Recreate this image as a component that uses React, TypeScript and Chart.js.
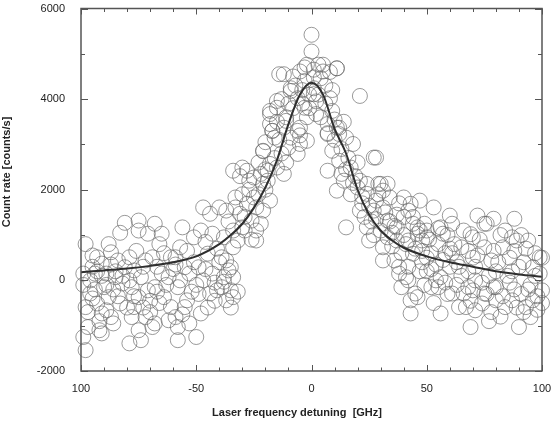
import React, { useEffect, useRef } from "react";
import { Chart, registerables } from "chart.js";

Chart.register(...registerables);

// Fit curve (detuning GHz, counts/s)
const fitX = [-100, -90, -80, -70, -60, -50, -40, -35, -30, -25, -20, -15, -10, -5, 0, 5, 10, 15, 20, 25, 30, 35, 40, 50, 60, 70, 80, 90, 100];
const fitY = [180, 220, 260, 320, 400, 530, 800, 1000, 1250, 1600, 2050, 2650, 3450, 4100, 4360, 4100, 3350, 2800, 2000, 1450, 1100, 880, 720, 530, 400, 300, 200, 130, 80];

// Measured points, left wing
const leftPoints: [number, number][] = [
  [-98,800],[-95,550],[-99,150],[-94,150],[-96,-290],[-98,-590],[-93,-510],[-91,-730],[-97,-1030],[-92,-1100],[-98,-1540],[-90,-150],[-91,370],[-93,510],[-95,-400],[-91,100],[-96,0],[-92,-900],[-93,200],[-99,-1250],[-97,-700],[-94,-200],[-99,-100],[-95,300],
  [-88,800],[-87,620],[-89,150],[-85,70],[-82,-70],[-88,-370],[-89,-660],[-87,-810],[-91,-1170],[-81,1270],[-83,1050],[-84,440],[-81,290],[-83,-510],[-86,-200],[-85,200],[-87,350],[-84,-350],[-80,-600],[-86,-950],[-82,100],[-89,-100],
  [-75,1320],[-75,1100],[-79,510],[-72,440],[-77,220],[-74,70],[-78,-150],[-75,-370],[-77,-590],[-78,-810],[-72,-810],[-79,-1390],[-74,-1320],[-71,1030],[-75,-1100],[-71,-220],[-73,300],[-76,650],[-70,-450],[-79,0],[-73,-600],[-77,-350],
  [-68,1250],[-65,1030],[-66,800],[-69,510],[-65,150],[-62,70],[-68,-150],[-64,-370],[-68,-950],[-69,-1030],[-61,-590],[-62,-880],[-61,510],[-67,300],[-63,-100],[-60,250],[-66,-500],[-70,-700],[-64,600],[-67,-250],
  [-58,-1320],[-58,-1030],[-59,510],[-57,730],[-55,290],[-58,-150],[-54,-440],[-51,950],[-53,150],[-55,-590],[-59,-810],[-56,1170],[-52,-250],[-57,0],[-51,400],[-54,650],[-50,-100],[-56,-750],[-53,-950],[-59,350],
  [-47,1610],[-44,1470],[-48,1100],[-43,1030],[-45,590],[-49,290],[-43,150],[-47,0],[-44,-290],[-41,-220],[-48,-730],[-42,-450],[-46,850],[-41,700],[-49,-300],[-45,-600],[-40,400],[-50,-1250],[-46,250],[-42,-50],
  [-39,510],[-37,440],[-34,730],[-38,950],[-37,1540],[-34,1100],[-32,880],[-40,1610],[-35,290],[-38,70],[-34,70],[-35,-220],[-37,-440],[-39,-150],[-34,-370],[-33,1830],[-30,1900],[-33,1610],[-31,1470],[-30,1170],[-34,2420],[-30,2490],[-36,220],[-32,-250],[-38,-30],[-31,2300],[-36,1300],[-35,-600],
  [-28,1690],[-26,1320],[-24,1100],[-24,1610],[-21,1540],[-25,1830],[-22,2350],[-21,2130],[-25,2270],[-18,2570],[-28,2420],[-29,1100],[-24,880],[-18,1760],[-27,2000],[-23,2600],[-20,2000],[-26,900],[-22,1250],[-29,1400],[-27,2200],[-21,2850],[-20,3050],[-23,1900],
];

// Measured points, peak region
const peakPoints: [number, number][] = [
  [-14,4550],[-18,3740],[-18,3450],[-15,3960],[-9,4180],[-12,3370],[-16,3150],[-10,2930],[-21,2860],[-19,2420],[-15,2490],[-12,2350],[-6,2790],[-5,3010],[-13,2800],[-16,2700],[-11,3600],[-17,3300],[-14,3100],[-19,2200],[-11,2600],[-15,3500],[-20,2450],[-13,4000],
  [-12,4550],[-15,3810],[-18,3670],[-9,4240],[-5,4610],[-2,4760],[-6,4020],[-11,3520],[-17,3300],[-5,3370],[-9,3150],[0,5420],[0,5050],[1,4240],[-8,3800],[-3,4400],[-1,4100],[-7,4300],[-4,3900],[-2,3600],[-8,4500],[-3,4700],[-1,3800],[-6,3300],[-10,3900],[-4,4200],[-5,3200],
  [4,4460],[5,4760],[11,4680],[8,4020],[9,3740],[7,3450],[11,3370],[12,3230],[21,4070],[-3,3810],[2,3670],[-2,3080],[3,4760],[5,4610],[1,4480],[6,4300],[8,4600],[2,3950],[6,3900],[4,3600],[9,4200],[3,4100],[7,3250],[10,3550],[1,4650],
  [11,4680],[1,4110],[12,3370],[7,3230],[15,3150],[18,3010],[9,2860],[12,2640],[17,2490],[7,2420],[28,2710],[14,2200],[20,2050],[24,2130],[29,2130],[11,1980],[13,2900],[16,2700],[19,2300],[15,2450],[18,2150],[14,3500],[13,2350],[17,1900],[10,3100],[20,2600],
];

// Measured points, right wing
const rightPoints: [number, number][] = [
  [27,2710],[21,2200],[30,2130],[33,2130],[24,1910],[28,1760],[21,1540],[27,1540],[31,1610],[34,1830],[15,1170],[24,1170],[33,1320],[25,880],[31,730],[31,440],[37,1170],[37,880],[38,150],[22,1700],[26,1300],[23,1400],[29,1900],[25,1650],[30,1100],[28,1350],[22,1850],[27,1000],
  [40,1830],[42,1540],[47,1760],[46,1170],[42,880],[48,880],[44,590],[43,-440],[42,0],[39,-150],[36,440],[31,1980],[34,1300],[38,1700],[40,1400],[35,1050],[39,600],[33,950],[36,1200],[32,1500],[38,300],[35,750],[40,1000],[37,1450],
  [53,1610],[49,1250],[50,1100],[47,1100],[45,-290],[52,-150],[43,-730],[46,-370],[43,1690],[41,70],[46,1030],[44,1250],[50,950],[48,400],[45,700],[47,200],[50,500],[42,300],[49,-100],[44,1400],[48,650],[41,800],[50,200],
  [55,800],[60,1430],[56,1170],[57,1030],[54,0],[55,-150],[56,70],[61,1250],[52,250],[58,600],[60,300],[53,-500],[59,-300],[57,450],[51,900],[55,1150],[58,-50],[60,700],[54,350],[52,600],[59,1000],[56,-730],
  [69,1020],[65,730],[67,-590],[64,-590],[70,-220],[68,-150],[68,200],[61,-290],[69,-1030],[66,-290],[63,400],[62,800],[70,500],[65,100],[69,-450],[63,-100],[66,1100],[64,300],[61,600],[68,650],[70,950],
  [72,1430],[79,1360],[75,1250],[75,730],[78,440],[71,0],[75,-290],[71,-660],[79,-150],[74,-510],[80,-440],[78,-700],[76,1250],[73,900],[77,100],[79,650],[71,300],[74,-50],[80,200],[76,-300],[72,550],[77,-900],
  [83,730],[88,1360],[80,-150],[87,-440],[89,880],[84,-590],[87,200],[90,-1030],[82,1000],[86,500],[88,-200],[81,400],[83,-350],[85,100],[89,-600],[90,300],[84,1100],[86,-50],[82,-800],[88,650],[87,950],
  [94,880],[99,510],[96,290],[99,150],[100,-220],[96,-440],[95,-810],[93,-590],[98,-650],[97,100],[92,400],[91,-300],[93,700],[100,500],[95,-100],[98,-350],[91,1000],[94,-200],[97,600],[100,-500],[92,-700],
];

const xTicks = [-100, -50, 0, 50, 100];
const yTicks = [-2000, 0, 2000, 4000, 6000];
const xLabel = "Laser frequency detuning  [GHz]";
const yLabel = "Count rate [counts/s]";

const FONT = "'Liberation Sans', Arial, Helvetica, sans-serif";

const framePlugin = {
  id: "frameTicks",
  afterDatasetsDraw(chart: any) {
    const { ctx, chartArea: a, scales } = chart;
    const xs = scales.x, ys = scales.y;
    ctx.save();
    ctx.strokeStyle = "#555";
    ctx.lineWidth = 1.5;
    ctx.strokeRect(a.left, a.top, a.right - a.left, a.bottom - a.top);
    ctx.lineWidth = 1;
    for (let v = -100; v <= 100; v += 10) {
      const px = Math.round(xs.getPixelForValue(v)) + 0.5;
      const len = v % 50 === 0 ? 6 : 3.5;
      ctx.beginPath();
      ctx.moveTo(px, a.bottom); ctx.lineTo(px, a.bottom - len);
      ctx.moveTo(px, a.top); ctx.lineTo(px, a.top + len);
      ctx.stroke();
    }
    for (let v = -2000; v <= 6000; v += 1000) {
      const py = Math.round(ys.getPixelForValue(v)) + 0.5;
      const len = v % 2000 === 0 ? 7 : 4;
      ctx.beginPath();
      ctx.moveTo(a.left, py); ctx.lineTo(a.left + len, py);
      ctx.moveTo(a.right, py); ctx.lineTo(a.right - len, py);
      ctx.stroke();
    }
    ctx.restore();
  },
  afterDraw(chart: any) {
    const { ctx } = chart;
    ctx.save();
    ctx.fillStyle = "#222";
    ctx.font = `bold 11px ${FONT}`;
    ctx.textAlign = "center";
    ctx.textBaseline = "middle";
    ctx.fillText(xLabel, 297, 413);
    ctx.translate(7, 172);
    ctx.rotate(-Math.PI / 2);
    ctx.fillText(yLabel, 0, 0);
    ctx.restore();
  },
};

export default function App() {
  const ref = useRef<HTMLCanvasElement>(null);
  useEffect(() => {
    if (!ref.current) return;
    const pts = [...leftPoints, ...peakPoints, ...rightPoints].map(([x, y]) => ({ x, y }));
    const fit = fitX.map((x, i) => ({ x, y: fitY[i] }));
    const chart = new Chart(ref.current, {
      type: "scatter",
      data: {
        datasets: [
          {
            type: "line",
            data: fit,
            borderColor: "#2e2e2e",
            borderWidth: 2,
            pointRadius: 0,
            cubicInterpolationMode: "monotone",
            fill: false,
          } as any,
          {
            data: pts,
            pointRadius: 7.5,
            pointStyle: "circle",
            backgroundColor: "rgba(0,0,0,0)",
            borderColor: "rgba(100,100,100,0.65)",
            borderWidth: 1,
            clip: false,
          } as any,
        ],
      },
      options: {
        responsive: false,
        animation: false,
        layout: { padding: { left: 0, top: 7, right: 11, bottom: 0 } },
        plugins: { legend: { display: false }, tooltip: { enabled: false } },
        scales: {
          x: {
            type: "linear",
            min: -100,
            max: 100,
            afterBuildTicks: (s: any) => { s.ticks = xTicks.map((v) => ({ value: v })); },
            afterFit: (s: any) => { s.height = 51; s.paddingLeft = 0; s.paddingRight = 0; },
            grid: { display: false },
            border: { display: false },
            ticks: {
              padding: 3,
              color: "#222",
              font: { family: FONT, size: 11 },
              maxRotation: 0,
              callback: (v: any) => (v === -100 ? "100" : String(v)),
            },
          },
          y: {
            type: "linear",
            min: -2000,
            max: 6000,
            afterBuildTicks: (s: any) => { s.ticks = yTicks.map((v) => ({ value: v })); },
            afterFit: (s: any) => { s.width = 81; s.paddingTop = 0; s.paddingBottom = 0; },
            grid: { display: false },
            border: { display: false },
            ticks: {
              padding: 8,
              color: "#222",
              font: { family: FONT, size: 11 },
              callback: (v: any) => String(v),
            },
          },
        },
      },
      plugins: [framePlugin],
    });
    return () => chart.destroy();
  }, []);
  return (
    <div style={{ position: "fixed", left: 0, top: 0, width: 553, height: 422, background: "#fff" }}>
      <canvas ref={ref} width={553} height={422} style={{ display: "block" }} />
    </div>
  );
}
